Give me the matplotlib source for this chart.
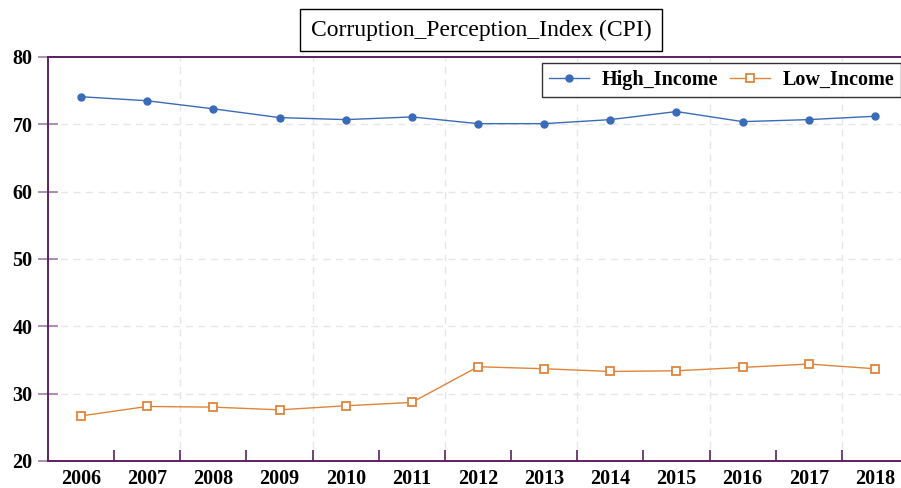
import matplotlib
matplotlib.use("Agg")
import matplotlib.pyplot as plt
from matplotlib.ticker import FixedLocator

years = [2006, 2007, 2008, 2009, 2010, 2011, 2012, 2013, 2014, 2015, 2016, 2017, 2018]
high_income = [74.1, 73.5, 72.3, 71.0, 70.7, 71.1, 70.1, 70.1, 70.7, 71.9, 70.4, 70.7, 71.2]
low_income = [26.7, 28.1, 28.0, 27.6, 28.2, 28.7, 34.0, 33.7, 33.3, 33.4, 33.9, 34.4, 33.7]
title = "Corruption_Perception_Index (CPI)"
yticks = [20, 30, 40, 50, 60, 70, 80]

plt.rcParams['font.family'] = ['Liberation Serif', 'DejaVu Serif']
spine_c = '#5E1F62'
blue = '#3A6BB8'
orange = '#E0843A'

fig = plt.figure(figsize=(9.01, 4.88), dpi=100)
ax = fig.add_axes([48/901, 27/488, 860/901, 404/488])

x = list(range(len(years)))
ax.plot(x, high_income, color=blue, lw=1.0, marker='o', ms=5, label='High_Income', zorder=3)
ax.plot(x, low_income, color=orange, lw=1.0, marker='s', ms=6, mfc='white', mec=orange,
        mew=1.3, label='Low_Income', zorder=3)

ax.set_xlim(-0.5, len(years) - 0.5)
ax.set_ylim(20, 80)
ax.set_yticks(yticks)
ax.set_yticklabels([str(v) for v in yticks], fontsize=14.5, fontweight='bold')
ax.set_xticks(x)
ax.set_xticklabels([str(y) for y in years], fontsize=14.5, fontweight='bold')
ax.tick_params(axis='x', which='major', length=0, pad=6)
ax.xaxis.set_minor_locator(FixedLocator([i + 0.5 for i in range(len(years) - 1)]))
ax.tick_params(axis='x', which='minor', direction='in', length=8, color=spine_c, width=1.2)
ax.tick_params(axis='y', which='major', direction='inout', length=14, color='#A07AA8', width=1.2, pad=4)

for v in yticks[1:-1]:
    ax.axhline(v, color='#E6E6E6', lw=1.0, ls=(0, (5, 4)), zorder=1)
for i in range(1, len(years) - 1, 2):
    ax.axvline(i + 0.5, color='#E6E6E6', lw=1.0, ls=(0, (5, 4)), zorder=1)

for s in ['left', 'top', 'bottom']:
    ax.spines[s].set_color(spine_c)
    ax.spines[s].set_linewidth(1.4)
ax.spines['right'].set_visible(False)

leg = ax.legend(loc='upper right', bbox_to_anchor=(901/901, 1 - 63/488), bbox_transform=fig.transFigure,
                ncol=2, frameon=True, fancybox=False, prop={'size': 14.5, 'weight': 'bold'},
                handlelength=2.0, columnspacing=0.6, borderpad=0.35, handletextpad=0.6,
                borderaxespad=0)
leg.get_frame().set_edgecolor('black')
leg.get_frame().set_linewidth(1.0)

fig.text(481/901, 1 - 30/488, title, ha='center', va='center', fontsize=17,
         bbox=dict(boxstyle='square,pad=0.45', fc='white', ec='black', lw=1.0))

fig.savefig('out.png', dpi=100)
